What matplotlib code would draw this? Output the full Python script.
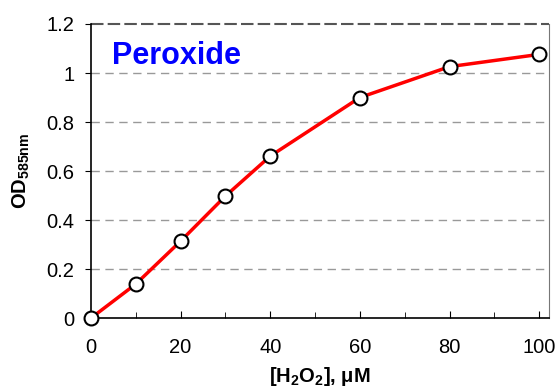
import matplotlib
matplotlib.use("Agg")
import matplotlib.pyplot as plt
from matplotlib.ticker import MultipleLocator

# data
conc = [0, 10, 20, 30, 40, 60, 80, 100]
od = [0.0, 0.139, 0.314, 0.498, 0.661, 0.90, 1.026, 1.076]
od_err = [0.004, 0.006, 0.008, 0.008, 0.007, 0.006, 0.008, 0.008]

plt.rcParams['font.family'] = ['Liberation Sans', 'DejaVu Sans']
plt.rcParams['mathtext.fontset'] = 'custom'
plt.rcParams['mathtext.rm'] = 'Liberation Sans'
plt.rcParams['mathtext.bf'] = 'Liberation Sans:bold'

fig = plt.figure(figsize=(5.58, 3.87), dpi=100)
ax = fig.add_axes([0.163, 0.178, 0.821, 0.760])

ax.errorbar(conc, od, yerr=od_err, color='red', lw=2.5, ecolor='black',
            elinewidth=1, capsize=2, marker='o', ms=10, mfc='white',
            mec='black', mew=1.5, zorder=3, clip_on=False)

ax.set_xlim(0, 102.2)
ax.set_ylim(0, 1.2)
ax.xaxis.set_major_locator(MultipleLocator(20))
ax.xaxis.set_minor_locator(MultipleLocator(10))
ax.set_yticks([0, 0.2, 0.4, 0.6, 0.8, 1.0, 1.2])
ax.set_yticklabels(['0', '0.2', '0.4', '0.6', '0.8', '1', '1.2'])
ax.tick_params(axis='x', which='both', direction='in', length=5, labelsize=14.5, pad=14)
ax.tick_params(axis='y', which='both', length=4, labelsize=14.5, direction='out', pad=8)
ax.tick_params(axis='x', which='minor', length=4)

for y in [0.2, 0.4, 0.6, 0.8, 1.0]:
    ax.axhline(y, color='#999999', ls=(0, (6, 4)), lw=1, zorder=1)
ax.axhline(1.2, color='#555555', ls=(0, (6, 2)), lw=1.5, zorder=1, clip_on=False)

ax.spines['right'].set_color('#777777')
ax.spines['top'].set_visible(False)
for s in ['left', 'bottom']:
    ax.spines[s].set_linewidth(1.2)

ax.set_xlabel(r'[H$_\mathbf{2}$O$_\mathbf{2}$], $\mathbf{\mu}$M', fontsize=14.5, fontweight='bold', labelpad=6)
ax.set_ylabel(r'OD$_\mathbf{585nm}$', fontsize=14.5, fontweight='bold', labelpad=10)

ax.text(0.045, 0.89, 'Peroxide', transform=ax.transAxes, color='blue',
        fontsize=22, fontweight='bold', va='center', ha='left')

fig.savefig('out.png', dpi=100)
